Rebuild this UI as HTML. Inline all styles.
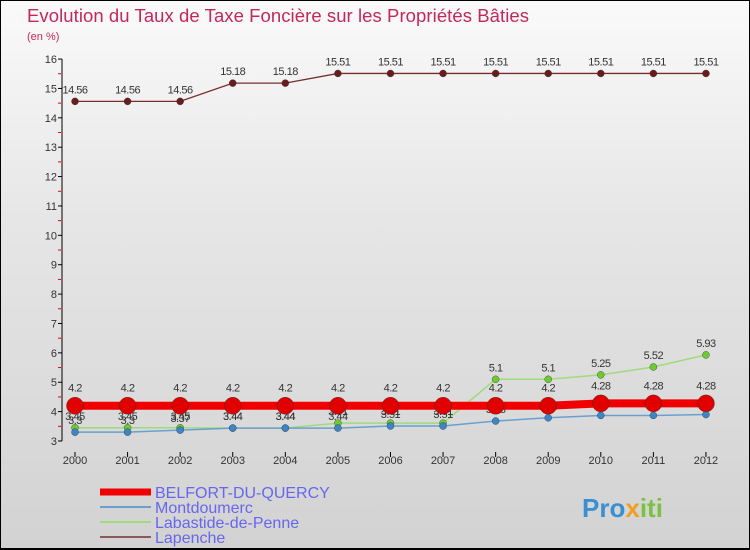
<!DOCTYPE html>
<html><head><meta charset="utf-8"><style>
body{margin:0}
#c{position:relative;width:750px;height:550px;overflow:hidden;background:linear-gradient(#fafafa 0%,#e6e6e6 40%,#d2d2d2 100%);font-family:"Liberation Sans",sans-serif}
</style></head><body>
<div id="c">
<svg id="s" width="750" height="550" style="position:absolute;left:0;top:0">
<rect x="0.5" y="0.5" width="749" height="548" fill="none" stroke="#000"/>
<line x1="0" y1="549" x2="750" y2="549" stroke="#000" stroke-width="2"/>
<text x="27" y="22" font-size="18.5" fill="#c2285a" textLength="502">Evolution du Taux de Taxe Foncière sur les Propriétés Bâties</text>
<text x="27" y="40" font-size="11" fill="#c2285a">(en %)</text>
<g id="ax"></g><g id="series"></g><g id="lg"></g>
<text x="582" y="517" font-size="26" font-weight="bold" fill="#3a8fd0">Pro<tspan fill="#f0a020">x</tspan><tspan fill="#7cc242">iti</tspan></text>
</svg>
</div>
<script>
const years=["2000","2001","2002","2003","2004","2005","2006","2007","2008","2009","2010","2011","2012"];
const belfort=[4.2,4.2,4.2,4.2,4.2,4.2,4.2,4.2,4.2,4.2,4.28,4.28,4.28];
const montdoumerc=[3.3,3.3,3.37,3.44,3.44,3.44,3.51,3.51,3.68,3.79,3.87,3.87,3.9];
const labastide=[3.45,3.45,3.45,3.44,3.44,3.61,3.61,3.61,5.1,5.1,5.25,5.52,5.93];
const lapenche=[14.56,14.56,14.56,15.18,15.18,15.51,15.51,15.51,15.51,15.51,15.51,15.51,15.51];
const yTicks=[3,4,5,6,7,8,9,10,11,12,13,14,15,16];
const NS="http://www.w3.org/2000/svg";
const X=i=>75+i*52.58, Y=v=>441-(v-3)*29.38;
function mk(t,a,p){const e=document.createElementNS(NS,t);for(const k in a)e.setAttribute(k,a[k]);p.appendChild(e);return e;}
const ax=document.getElementById('ax');
const yl=mk('line',{x1:62,y1:Y(16),x2:62,y2:Y(3),stroke:'#000'},ax);


yTicks.forEach(v=>{
 mk('line',{x1:58,y1:Y(v),x2:62,y2:Y(v),stroke:'#000'},ax);
 if(v<16) mk('line',{x1:58,y1:Y(v+0.5),x2:61,y2:Y(v+0.5),stroke:'#e00'},ax);
 const t=mk('text',{x:57,y:Y(v)+4,'font-size':11,'text-anchor':'end',fill:'#333'},ax);t.textContent=v;
 
 
});
years.forEach((y,i)=>{
 mk('line',{x1:X(i),y1:452,x2:X(i),y2:457,stroke:'#000'},ax);
 const t=mk('text',{x:X(i),y:464,'font-size':11,'text-anchor':'middle',fill:'#333'},ax);t.textContent=y;
 
 
});
const sg=document.getElementById('series');
const defs=[
 [lapenche,'#7a2c2c','#6a1c1c',1.3,3.5,'lapenche',-8],
 [labastide,'#9edc7a','#6ccb30',1.5,3.5,'labastide-de-penne',-8],
 [montdoumerc,'#6a9fcf','#3a86c8',1.5,3.5,'montdoumerc',-8],
 [belfort,'#f00000','#e00000',8,8.5,'belfort-du-quercy',-14]];
defs.forEach(([d,lc,pc,w,r,n,off])=>{
 const g=mk('g',{},sg);
 
 
 mk('polyline',{points:d.map((v,i)=>X(i)+','+Y(v)).join(' '),fill:'none',stroke:lc,'stroke-width':w},g);
 d.forEach((v,i)=>{const c=mk('circle',{cx:X(i),cy:Y(v),r:r,fill:pc,stroke:'#333','stroke-width':0.4},g);
  
  
  const t=mk('text',{x:X(i),y:Y(v)+off,'font-size':11,'text-anchor':'middle',fill:'#333','letter-spacing':'-0.5'},g);t.textContent=v;
  
  });
});
const lg=document.getElementById('lg');
[['BELFORT-DU-QUERCY','#f00000',7],['Montdoumerc','#6a9fcf',2],['Labastide-de-Penne','#9edc7a',2],['Lapenche','#8a5a5a',2]].forEach(([n,c,w],k)=>{
 const y=492+k*15;
 const g=mk('g',{},lg);
 
 
 mk('line',{x1:100,y1:y,x2:151,y2:y,stroke:c,'stroke-width':w},g);
 const t=mk('text',{x:155,y:y+6,'font-size':16,fill:'#6666ee'},g);t.textContent=n;
});
</script>
</body></html>
